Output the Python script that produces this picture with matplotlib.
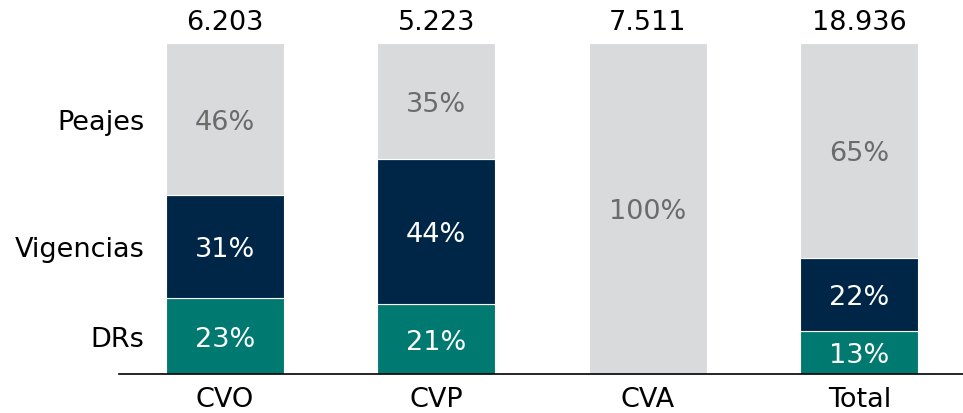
import numpy as np
import matplotlib
matplotlib.use("Agg")
import matplotlib.pyplot as plt

plt.rcParams['font.family'] = ['DejaVu Sans']

# Données
categories = ["CVO", "CVP", "CVA", "Total"]
totals = ["6.203", "5.223", "7.511", "18.936"]
series = ["DRs", "Vigencias", "Peajes"]
drs = [23, 21, 0, 13]
vigencias = [31, 44, 0, 22]
peajes = [46, 35, 100, 65]

colors = ["#007a70", "#002647", "#d9dadc"]
text_colors = ["white", "white", "#6b6b6b"]
fs = 19.5

fig = plt.figure(figsize=(9.63, 4.14), dpi=100)
ax = fig.add_axes([119 / 963, 39 / 414, 844 / 963, 375 / 414])

x = np.arange(len(categories))
width = 0.557
bottom = np.zeros(len(categories))
for vals, col, tcol in zip([drs, vigencias, peajes], colors, text_colors):
    v = np.array(vals) / 100
    ax.bar(x, v, width, bottom=bottom, color=col, edgecolor="white", linewidth=0.8)
    for xi, b, h in zip(x, bottom, v):
        if h > 0:
            ax.text(xi, b + h / 2 - 0.008, f"{round(h * 100)}%", ha="center", va="center",
                    fontsize=fs, color=tcol)
    bottom += v

# Totaux au-dessus des barres
for xi, t in zip(x, totals):
    ax.text(xi, 1.063, t, ha="center", va="center", fontsize=fs, color="black")

# Légende à gauche, alignée sur les segments CVO
b = 0
for name, vals in zip(series, [drs, vigencias, peajes]):
    h = vals[0] / 100
    ax.text(x[0] - 0.38, b + h / 2 - 0.008, name, ha="right", va="center", fontsize=fs, color="black")
    b += h

ax.set_xlim(-0.5, 3.49)
ax.set_ylim(0, 375 / 331)
ax.set_xticks(x)
ax.set_xticklabels(categories, fontsize=fs)
ax.tick_params(axis="x", length=0, pad=9)
ax.set_yticks([])
for s in ["top", "right", "left"]:
    ax.spines[s].set_visible(False)
ax.spines["bottom"].set_linewidth(1.2)

fig.savefig("out.png", dpi=100)
